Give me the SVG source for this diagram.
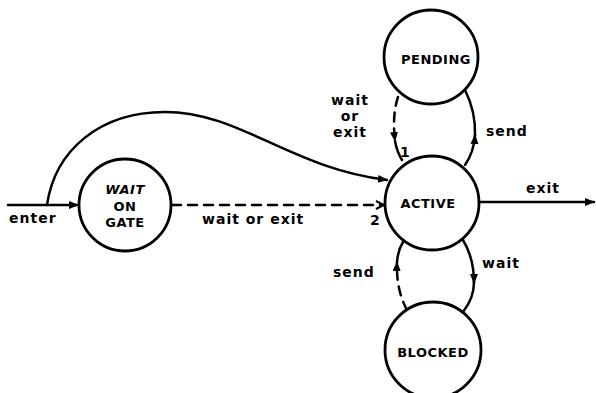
<svg xmlns="http://www.w3.org/2000/svg" width="596" height="393" viewBox="0 0 596 393">
  <style>
    .node { fill: #fff; stroke: #000; stroke-width: 2.8; }
    .edge { fill: none; stroke: #000; stroke-width: 2.5; stroke-linecap: round; }
    .dash { stroke-dasharray: 9 7; }
    .name { font-family: "DejaVu Sans", sans-serif; font-weight: bold; font-size: 13px; letter-spacing: 0.5px; text-anchor: middle; fill: #000; }
    .lbl { font-family: "DejaVu Sans", sans-serif; font-weight: bold; font-size: 14px; letter-spacing: 1px; fill: #000; }
  </style>
  <defs>
    <marker id="head" viewBox="0 0 10 10" refX="9" refY="5" markerWidth="10" markerHeight="10" markerUnits="userSpaceOnUse" orient="auto">
      <path d="M0,1 L10,5 L0,9 Z" fill="#000"/>
    </marker>
    <marker id="open" viewBox="0 0 10 10" refX="9" refY="5" markerWidth="10" markerHeight="10" markerUnits="userSpaceOnUse" orient="auto">
      <path d="M1,1 L9,5 L1,9" fill="none" stroke="#000" stroke-width="2"/>
    </marker>
  </defs>
  <rect width="596" height="393" fill="#fff"/>

  <g id="connectors">
    <!-- entry into WAIT ON GATE -->
    <path class="edge" d="M8,205 L78,205" marker-end="url(#head)"/>
    <text class="lbl" x="9" y="223">enter</text>
    <!-- bypass curve straight to ACTIVE -->
    <path class="edge" d="M47,205 C55,150 100,112 165,112 C240,112 290,168 387,180" marker-end="url(#head)"/>
    <!-- WAIT ON GATE to ACTIVE -->
    <path class="edge dash" d="M172,205 L384,205" marker-end="url(#open)"/>
    <text class="lbl" x="202" y="224">wait or exit</text>
    <text class="lbl" x="370" y="225">2</text>
    <!-- exit -->
    <path class="edge" d="M480,202 L594,202" marker-end="url(#head)"/>
    <text class="lbl" x="526" y="193">exit</text>
    <!-- PENDING to ACTIVE (dashed) -->
    <path class="edge dash" d="M398,97 Q392,115 395,141" marker-end="url(#head)"/>
    <path class="edge" d="M395,141 Q397,152 402,160"/>
    <text class="lbl" x="400" y="157">1</text>
    <text class="lbl" x="350" y="105" text-anchor="middle">wait</text>
    <text class="lbl" x="350" y="121" text-anchor="middle">or</text>
    <text class="lbl" x="350" y="137" text-anchor="middle">exit</text>
    <!-- ACTIVE to PENDING -->
    <path class="edge" d="M465,165 Q474,152 475,135" marker-end="url(#head)"/>
    <path class="edge" d="M475,136 Q476,112 465,90"/>
    <text class="lbl" x="486" y="136">send</text>
    <!-- BLOCKED to ACTIVE (dashed) -->
    <path class="edge dash" d="M407,310 Q396,290 397,262" marker-end="url(#head)"/>
    <path class="edge" d="M397,262 Q398,250 403,242"/>
    <text class="lbl" x="333" y="277">send</text>
    <!-- ACTIVE to BLOCKED -->
    <path class="edge" d="M463,240 Q474,258 474,283" marker-end="url(#head)"/>
    <path class="edge" d="M474,282 Q474,298 463,312"/>
    <text class="lbl" x="482" y="268">wait</text>
  </g>

  <g id="wait-on-gate">
    <circle class="node" cx="125" cy="205" r="46"/>
    <text class="name" x="125" y="194" font-style="italic">WAIT</text>
    <text class="name" x="125" y="211">ON</text>
    <text class="name" x="125" y="227">GATE</text>
  </g>
  <g id="active">
    <circle class="node" cx="432" cy="203" r="47"/>
    <text class="name" x="428" y="208">ACTIVE</text>
  </g>
  <g id="pending">
    <circle class="node" cx="431" cy="57" r="47"/>
    <text class="name" x="436" y="64">PENDING</text>
  </g>
  <g id="blocked">
    <circle class="node" cx="433" cy="350" r="48"/>
    <text class="name" x="433" y="357">BLOCKED</text>
  </g>
</svg>
